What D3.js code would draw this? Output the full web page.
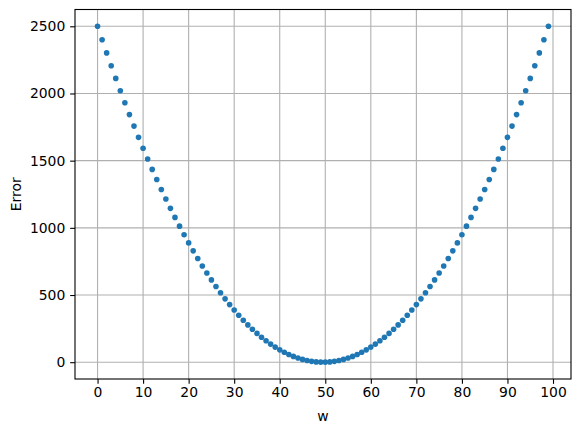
<!DOCTYPE html>
<html lang="en">
<head>
  <meta charset="UTF-8">
  <title>Error vs w</title>
  <style>
    body { margin: 0; background: #fff; }
    text { font-family: "DejaVu Sans", sans-serif; }
  </style>
</head>
<body>
  <svg id="chart" width="580" height="432"></svg>

  <script src="https://d3js.org/d3.v7.min.js"></script>
  <script>
    // error for w = 0 .. 99
    const errorLeft = [
      2500.0, 2400.0, 2302.0, 2206.1, 2112.3, 2020.5, 1930.7, 1842.9, 1757.2, 1673.6,
      1591.9, 1512.3, 1434.8, 1359.3, 1285.8, 1214.4, 1145.0, 1077.7, 1012.4, 949.1,
      887.9, 828.7, 771.6, 716.5, 663.5, 612.4, 563.5, 516.5, 471.6, 428.8,
      388.0, 349.2, 312.5, 277.8, 245.1, 214.5, 185.9, 159.4, 134.9, 112.5,
      92.1, 73.7, 57.4, 43.1, 30.9, 20.7, 12.5, 6.4, 2.3, 0.3
    ];
    const errorRight = [
      0.3, 2.3, 6.4, 12.5, 20.7, 30.9, 43.1, 57.4, 73.7, 92.1,
      112.5, 134.9, 159.4, 185.9, 214.5, 245.1, 277.8, 312.5, 349.2, 388.0,
      428.8, 471.6, 516.5, 563.5, 612.4, 663.5, 716.5, 771.6, 828.7, 887.9,
      949.1, 1012.4, 1077.7, 1145.0, 1214.4, 1285.8, 1359.3, 1434.8, 1512.3, 1591.9,
      1673.6, 1757.2, 1842.9, 1930.7, 2020.5, 2112.3, 2206.1, 2302.0, 2400.0, 2500.0
    ];
    const errors = errorLeft.concat(errorRight);
    const xTicks = [0, 10, 20, 30, 40, 50, 60, 70, 80, 90, 100];
    const yTicks = [0, 500, 1000, 1500, 2000, 2500];

    const plotL = 75, plotR = 571, plotT = 9.5, plotB = 379;
    const svg = d3.select("#chart");

    const x = d3.scaleLinear().domain([-4.95, 103.95]).range([plotL, plotR]);
    const y = d3.scaleLinear().domain([-125, 2625]).range([plotB, plotT]);

    // grid
    svg.append("g")
      .selectAll("line")
      .data(xTicks)
      .join("line")
      .attr("x1", d => x(d)).attr("x2", d => x(d))
      .attr("y1", plotT).attr("y2", plotB)
      .attr("stroke", "#b0b0b0").attr("stroke-width", 1.1);

    svg.append("g")
      .selectAll("line")
      .data(yTicks)
      .join("line")
      .attr("x1", plotL).attr("x2", plotR)
      .attr("y1", d => y(d)).attr("y2", d => y(d))
      .attr("stroke", "#b0b0b0").attr("stroke-width", 1.1);

    // points
    svg.append("g")
      .selectAll("circle")
      .data(errors)
      .join("circle")
      .attr("cx", (d, i) => x(i))
      .attr("cy", d => y(d))
      .attr("r", 2.8)
      .attr("fill", "#1f77b4");

    // axes
    const xAxis = svg.append("g")
      .attr("transform", `translate(0,${plotB})`)
      .call(d3.axisBottom(x).tickValues(xTicks).tickFormat(d3.format("d"))
        .tickSize(4.86).tickPadding(3.5));
    const yAxis = svg.append("g")
      .attr("transform", `translate(${plotL},0)`)
      .call(d3.axisLeft(y).tickValues(yTicks).tickFormat(d3.format("d"))
        .tickSize(4.86).tickPadding(4.86));

    [xAxis, yAxis].forEach(a => {
      a.select(".domain").remove();
      a.selectAll(".tick line").attr("stroke", "#000").attr("stroke-width", 1.1);
      a.selectAll(".tick text")
        .attr("fill", "#000")
        .style("font-size", "13.9px")
        .style("font-family", "DejaVu Sans");
    });

    // frame
    svg.append("rect")
      .attr("x", plotL).attr("y", plotT)
      .attr("width", plotR - plotL).attr("height", plotB - plotT)
      .attr("fill", "none").attr("stroke", "#000").attr("stroke-width", 1.1);

    // labels
    svg.append("text")
      .attr("x", (plotL + plotR) / 2).attr("y", 421)
      .attr("text-anchor", "middle")
      .style("font-size", "13.9px")
      .text("w");

    svg.append("text")
      .attr("transform", `translate(21,${(plotT + plotB) / 2}) rotate(-90)`)
      .attr("text-anchor", "middle")
      .style("font-size", "13.9px")
      .text("Error");
  </script>
</body>
</html>
